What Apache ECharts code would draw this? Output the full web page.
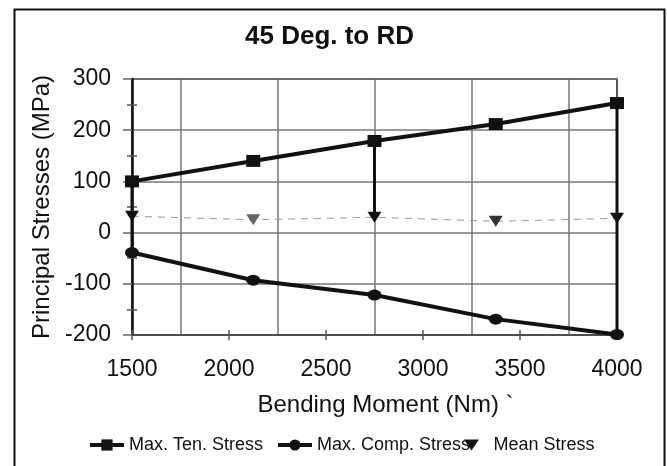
<!DOCTYPE html>
<html><head><meta charset="utf-8">
<script src="https://cdn.jsdelivr.net/npm/echarts@6/dist/echarts.min.js"></script>
<style>html,body{margin:0;padding:0;background:#fff}#c{width:667px;height:466px}</style>
</head><body><div id="c"></div>
<script>
const titleText = '45 Deg. to RD';
const xName = 'Bending Moment (Nm) `';
const yName = 'Principal Stresses (MPa)';
const seriesNames = ['Max. Ten. Stress', 'Max. Comp. Stress', 'Mean Stress'];
const bendingMoment = [1500, 2125, 2750, 3375, 4000];
const maxTenStress = [100, 140, 179, 212, 253];
const maxCompStress = [-39, -93, -122, -169, -199];
const meanStress = [32, 25, 30, 22, 28];
const xMin = 1500, xMax = 4000, xStep = 500;
const yMin = -200, yMax = 300, yStep = 100;
// vertical drop lines from the tensile marker down to another series at these points
const dropPoints = [0, 2, 4];
const dropTargets = ['comp', 'mean', 'comp'];
const meanMarkerColors = ['#111', '#666', '#111', '#333', '#111'];

const FONT = "'Liberation Sans', Arial, sans-serif";
const pair = (xs, ys) => xs.map((x, i) => [x, ys[i]]);
const targetArr = { comp: maxCompStress, mean: meanStress };

const dropSeries = dropPoints.map((idx, k) => ({
  type: 'line', silent: true, symbol: 'none', z: 1,
  xAxisIndex: 0, yAxisIndex: 0,
  lineStyle: { color: '#111', width: 3 },
  data: [[bendingMoment[idx], maxTenStress[idx]], [bendingMoment[idx], targetArr[dropTargets[k]][idx]]]
}));

const chart = echarts.init(document.getElementById('c'), null, { renderer: 'canvas' });
const legendBase = {
  orient: 'horizontal', top: 431, itemWidth: 34, itemHeight: 14, itemGap: 0,
  lineStyle: { width: 4 },
  textStyle: { fontFamily: FONT, fontSize: 18, color: '#111' }, selectedMode: false
};
chart.setOption({
  backgroundColor: '#fff',
  animation: false,
  graphic: [{
    type: 'rect', left: 12, top: 7, silent: true,
    shape: { x: 0, y: 0, width: 650, height: 480 },
    style: { fill: 'none', stroke: '#111', lineWidth: 2 }
  }],
  title: {
    text: titleText, left: 240, top: 19,
    textStyle: { fontFamily: FONT, fontSize: 26, fontWeight: 'bold', color: '#111' }
  },
  legend: [
    Object.assign({}, legendBase, { left: 83, data: [seriesNames[0]] }),
    Object.assign({}, legendBase, { left: 271, data: [seriesNames[1]] }),
    Object.assign({}, legendBase, { left: 459, itemHeight: 11, data: [{ name: seriesNames[2], icon: 'path://M0,0 L15,0 L7.5,11 Z', itemStyle: { color: '#111' } }] })
  ],
  grid: { left: 132, right: 50, top: 79, bottom: 131, show: true, borderColor: '#222', borderWidth: 1.5, backgroundColor: 'transparent' },
  xAxis: [{
    type: 'value', position: 'bottom', min: xMin, max: xMax, interval: xStep,
    name: xName, nameLocation: 'middle', nameGap: 58,
    nameTextStyle: { fontFamily: FONT, fontSize: 24, color: '#111', padding: [0, 0, 0, 22] },
    axisLine: { show: true, onZero: false, lineStyle: { color: '#444', width: 1.5 } },
    axisTick: { show: true, length: 5, lineStyle: { color: '#555', width: 1.5 } },
    minorTick: { show: false, splitNumber: 2 },
    axisLabel: { fontFamily: FONT, fontSize: 23, color: '#111', margin: 23, formatter: v => String(v) },
    splitLine: { show: false },
    minorSplitLine: { show: true, lineStyle: { color: '#777', width: 1.5 } }
  }, {
    type: 'value', position: 'bottom', min: xMin, max: xMax, interval: xStep,
    axisLine: { show: false, onZero: false }, axisLabel: { show: false },
    axisTick: { show: true, inside: true, length: 5, lineStyle: { color: '#555', width: 1.5 } },
    splitLine: { show: false }
  }],
  yAxis: [{
    type: 'value', position: 'left', min: yMin, max: yMax, interval: yStep,
    name: yName, nameLocation: 'middle', nameGap: 78, nameRotate: 90,
    nameTextStyle: { fontFamily: FONT, fontSize: 24, color: '#111' },
    axisLine: { show: true, onZero: false, lineStyle: { color: '#111', width: 2.5 } },
    axisTick: { show: true, length: 9, lineStyle: { color: '#666', width: 1.5 } },
    minorTick: { show: true, splitNumber: 2, length: 5, lineStyle: { color: '#555', width: 1.5 } },
    axisLabel: { fontFamily: FONT, fontSize: 23, color: '#111', margin: 21 },
    splitLine: { show: true, lineStyle: { color: '#777', width: 1.5 } }
  }, {
    type: 'value', position: 'left', min: yMin, max: yMax, interval: yStep,
    axisLine: { show: false, onZero: false }, axisLabel: { show: false },
    axisTick: { show: false, inside: true },
    minorTick: { show: true, splitNumber: 2, length: 5, lineStyle: { color: '#555', width: 1.5 } },
    splitLine: { show: false }
  }],
  series: dropSeries.concat([
    {
      name: seriesNames[2], type: 'line', z: 3,
      data: bendingMoment.map((x, i) => ({ value: [x, meanStress[i]], itemStyle: { color: meanMarkerColors[i] } })),
      symbol: 'triangle', symbolRotate: 180, symbolSize: [14, 11],
      itemStyle: { color: '#111' },
      lineStyle: { color: '#999', width: 1, type: [7, 6] }
    },
    {
      name: seriesNames[0], type: 'line', z: 4,
      data: pair(bendingMoment, maxTenStress),
      symbol: 'rect', symbolSize: [14, 12],
      itemStyle: { color: '#111' },
      lineStyle: { color: '#111', width: 4 }
    },
    {
      name: seriesNames[1], type: 'line', z: 4,
      data: pair(bendingMoment, maxCompStress),
      symbol: 'circle', symbolSize: [14, 11],
      itemStyle: { color: '#111' },
      lineStyle: { color: '#111', width: 4 }
    }
  ])
});
</script></body></html>
